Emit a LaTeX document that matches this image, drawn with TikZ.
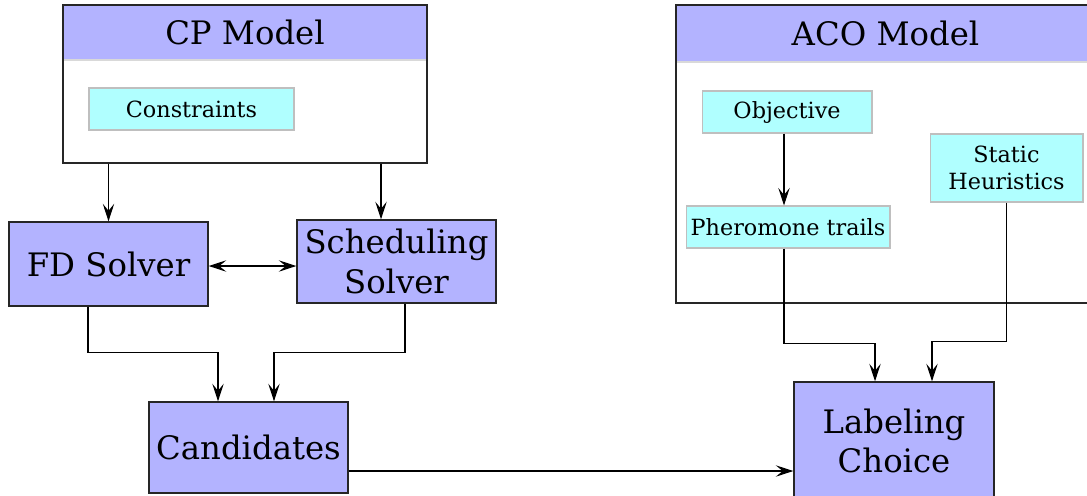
\documentclass[tikz,border=0pt]{standalone}
\usepackage{fontspec}
\setmainfont{DejaVu Serif}
\usetikzlibrary{arrows.meta}
\definecolor{boxblue}{RGB}{179,179,255}
\definecolor{boxcyan}{RGB}{176,255,255}

\begin{document}
\begin{tikzpicture}[x=0.02cm, y=-0.02cm, line width=0.6pt, >={Stealth[length=10pt,width=6.5pt,inset=4pt]},
        model/.style = {draw=black!85, line width=0.8pt, rectangle, inner sep=0pt},
        head/.style = {draw=black!15, fill=boxblue, inner sep=0pt, font=\fontsize{18.4}{22}\selectfont},
        block/.style = {draw=black!85, line width=0.8pt, fill=boxblue, align=center, inner sep=0pt, font=\fontsize{18.4}{22.5}\selectfont},
        fact/.style = {draw=black!25, fill=boxcyan, align=center, inner sep=0pt, font=\fontsize{12.7}{15.4}\selectfont}]
    \useasboundingbox (0,0) rectangle (1087,495);
    \node[head, minimum width=7.28cm, minimum height=1.1cm] (cphead) at (245,32.5) {CP Model};
    \node[model, minimum width=7.28cm, minimum height=3.16cm] (cp) at (245,84) {};
    \node[fact, minimum width=4.1cm, minimum height=0.84cm] (cons) at (191.5,109) {Constraints};
    \node[head, minimum width=8.38cm, minimum height=1.14cm] (acohead) at (885.5,33.5) {ACO Model};
    \node[model, minimum width=8.38cm, minimum height=5.96cm] (aco) at (885.5,154) {};
    \node[fact, minimum width=3.4cm, minimum height=0.84cm] (obj) at (787,112) {Objective};
    \node[fact, minimum width=4.08cm, minimum height=0.84cm] (pher) at (788,227) {Pheromone trails};
    \node[fact, minimum width=3.06cm, minimum height=1.36cm] (stat) at (1006.5,168) {Static\\Heuristics};
    \node[block, minimum width=3.98cm, minimum height=1.68cm] (fd) at (108.5,264) {FD Solver};
    \node[block, minimum width=3.98cm, minimum height=1.66cm] (sched) at (396.5,261.5) {Scheduling\\Solver};
    \node[block, minimum width=3.98cm, minimum height=1.82cm] (cand) at (248.5,447.5) {Candidates};
    \node[block, minimum width=4cm, minimum height=2.36cm] (lab) at (894,441) {Labeling\\Choice};

    \coordinate (schedin) at ([xshift=-0.31cm]sched.north);
    \coordinate (fdout) at ([xshift=-0.41cm]fd.south);
    \coordinate (fdside) at ([yshift=-0.04cm]fd.east);
    \coordinate (schedout) at ([xshift=0.17cm]sched.south);
    \coordinate (candin1) at ([xshift=-0.61cm]cand.north);
    \coordinate (candin2) at ([xshift=0.51cm]cand.north);
    \coordinate (candout) at ([yshift=-0.47cm]cand.east);
    \coordinate (objout) at ([xshift=-0.06cm]obj.south);
    \coordinate (pherout) at ([xshift=-0.08cm]pher.south);
    \coordinate (labin1) at ([xshift=-0.38cm]lab.north);
    \coordinate (labin2) at ([xshift=0.76cm]lab.north);

    \draw[->] (cp.south -| fd.north) -- (fd.north);
    \draw[->] (cp.south -| schedin) -- (schedin);
    \draw[<->] (fdside) -- (fdside -| sched.west);
    \draw[->] (fdout) -- ++(0,46) -| (candin1);
    \draw[->] (schedout) -- ++(0,49) -| (candin2);
    \draw[->] (candout) -- (candout -| lab.west);
    \draw[->] (objout) -- (objout |- pher.north);
    \draw[->] (pherout) -- ++(0,95) -| (labin1);
    \draw[->] (stat.south) -- ++(0,139) -| (labin2);
\end{tikzpicture}
\end{document}
